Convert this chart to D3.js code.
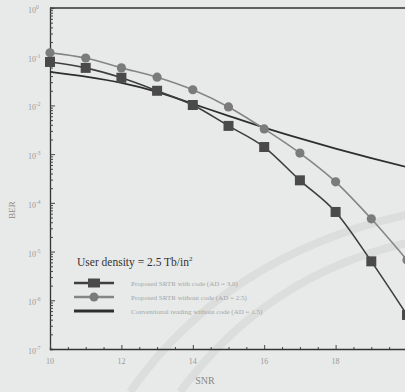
<!DOCTYPE html>
<html><head><meta charset="utf-8">
<script src="https://cdn.jsdelivr.net/npm/d3@7"></script>
<style>body{margin:0;background:#e8eae9;}svg{display:block;}</style>
</head><body>
<svg id="c" width="405" height="392"></svg>
<script>
const snr = [10,11,12,13,14,15,16,17,18,19,20];
const withCode = [0.078,0.059,0.037,0.020,0.0102,0.0038,0.0014,2.9e-4,6.5e-5,6.3e-6,5e-7];
const withoutCode = [0.12,0.094,0.059,0.038,0.021,0.0093,0.0033,1.05e-3,2.7e-4,4.7e-5,6.7e-6];
const conventional = [0.049,0.039,0.029,0.019,0.0108,0.0061,0.0035,0.0021,0.0013,8.3e-4,5.4e-4];
const xTicks = [10,12,14,16,18];
const yTicks = [1,1e-1,1e-2,1e-3,1e-4,1e-5,1e-6,1e-7];
const legendTitle = "User density = 2.5 Tb/in";
const legendLabels = ["Proposed SRTR with code (AD = 3.0)","Proposed SRTR without code (AD = 2.5)","Conventional reading without code (AD = 1.5)"];

const svg = d3.select("#c");
const x = d3.scaleLinear().domain([10,20]).range([50,407]);
const y = d3.scaleLog().domain([1e-7,1]).range([349,8]);
const serif = "'Liberation Serif','DejaVu Serif',serif";

svg.append("rect").attr("width",405).attr("height",392).attr("fill","#e8eae9");

// faint watermark arcs
const wm = svg.append("g").attr("fill","none").attr("stroke","#dcdedd").attr("stroke-width",8);
wm.append("path").attr("d","M130,392 Q230,250 420,212");
wm.append("path").attr("d","M180,392 Q270,270 420,240");

// axes frame
svg.append("line").attr("x1",50).attr("x2",405).attr("y1",8).attr("y2",8).attr("stroke","#333").attr("stroke-width",1.3);
const ya = svg.append("g").attr("transform","translate(50,0)")
  .call(d3.axisRight(y).tickValues(yTicks.concat(d3.range(-7,0).flatMap(e=>d3.range(2,10).map(m=>m*Math.pow(10,e))))).tickFormat("").tickSizeOuter(0).tickSize(3));
ya.selectAll(".tick line").attr("x2",d=>yTicks.includes(d)?5:3);
ya.select(".domain").attr("stroke","#333").attr("stroke-width",1.3);
ya.selectAll("line").attr("stroke","#444");
const xa = svg.append("g").attr("transform","translate(0,349)")
  .call(d3.axisTop(x).tickValues(d3.range(10,21,0.5)).tickFormat("").tickSizeOuter(0).tickSize(2));
xa.selectAll(".tick line").attr("y2",d=>xTicks.includes(d)?-4:-2);
xa.select(".domain").attr("stroke","#333").attr("stroke-width",1.3);
xa.selectAll("line").attr("stroke","#444");

// tick labels
xTicks.forEach(v=>{
  svg.append("text").attr("x",x(v)).attr("y",364).attr("text-anchor","middle")
    .attr("font-family",serif).attr("font-size",8).attr("fill","#999").text(v);
});
yTicks.forEach(v=>{
  const e = Math.round(Math.log10(v));
  const t = svg.append("text").attr("x",28).attr("y",y(v)+5).attr("font-family",serif).attr("font-size",8).attr("fill","#999");
  t.append("tspan").text("10");
  t.append("tspan").attr("dy",-4).attr("font-size",5.5).text(e);
});
svg.append("text").attr("x",205).attr("y",384).attr("text-anchor","middle").attr("font-family",serif).attr("font-size",10).attr("fill","#888").text("SNR");
svg.append("text").attr("transform","translate(15,210) rotate(-90)").attr("text-anchor","middle").attr("font-family",serif).attr("font-size",9).attr("fill","#888").text("BER");

const g = svg.append("g");
const line = d3.line().x((d,i)=>x(snr[i])).y(d=>y(d)).curve(d3.curveMonotoneX);
g.append("path").datum(conventional).attr("d",line).attr("fill","none").attr("stroke","#2e2e2e").attr("stroke-width",1.8);
g.append("path").datum(withoutCode).attr("d",line).attr("fill","none").attr("stroke","#858585").attr("stroke-width",1.6);
g.append("path").datum(withCode).attr("d",line).attr("fill","none").attr("stroke","#3e3e3e").attr("stroke-width",1.6);
g.selectAll(".c").data(withoutCode).join("circle").attr("cx",(d,i)=>x(snr[i])).attr("cy",d=>y(d)).attr("r",4.6).attr("fill","#7b7b7b");
g.selectAll(".s").data(withCode).join("rect").attr("x",(d,i)=>x(snr[i])-5).attr("y",d=>y(d)-5).attr("width",10).attr("height",10).attr("fill","#4a4a4a");

// legend
const lt = svg.append("text").attr("x",77).attr("y",266).attr("font-family",serif).attr("font-size",11.5).attr("fill","#333").text(legendTitle);
lt.append("tspan").attr("dy",-5).attr("font-size",7).text("2");
const ly = [283,297,311];
const lstroke = ["#3e3e3e","#858585","#2e2e2e"];
ly.forEach((yy,i)=>{
  svg.append("line").attr("x1",74).attr("x2",114).attr("y1",yy).attr("y2",yy).attr("stroke",lstroke[i]).attr("stroke-width",i==2?3:2.5);
  svg.append("text").attr("x",131).attr("y",yy+2.5).attr("font-family",serif).attr("font-size",7).attr("fill","#a5a5a5").text(legendLabels[i]);
});
svg.append("rect").attr("x",88).attr("y",ly[0]-4.5).attr("width",12).attr("height",9).attr("fill","#4a4a4a");
svg.append("circle").attr("cx",94).attr("cy",ly[1]).attr("r",4.5).attr("fill","#7b7b7b");
</script>
</body></html>
